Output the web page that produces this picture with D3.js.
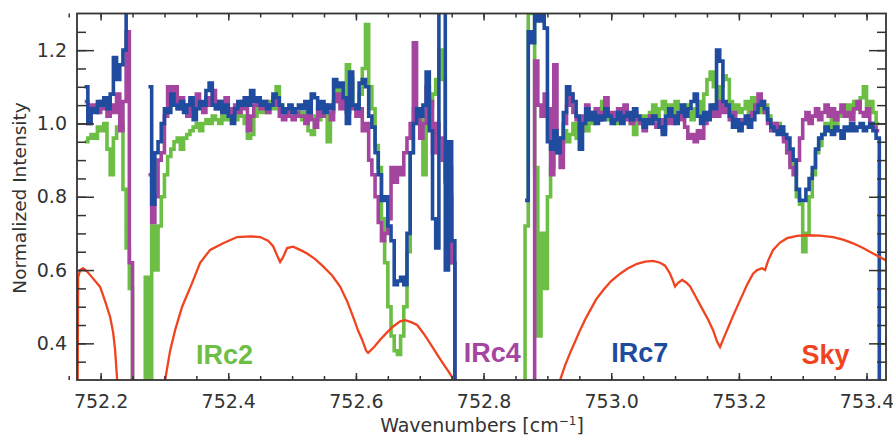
<!DOCTYPE html>
<html><head><meta charset="utf-8">
<script src="https://cdn.jsdelivr.net/npm/d3@7"></script>
<style>
html,body{margin:0;padding:0;background:#fff;}
svg text{font-family:"DejaVu Sans",sans-serif;}
</style></head>
<body><svg id="c" width="893" height="437"></svg>
<script>
// ---- data ----
const gridStart = 752.175, gridStep = 0.005, gridCount = 250;
const wavenumbers = d3.range(gridCount).map(i => +(gridStart + i * gridStep).toFixed(4));

const irc2 = [
0.95,0.96,0.97,0.96,0.99,0.98,1.00,0.93,0.86,0.96,
0.99,1.00,0.82,0.66,0.55,0.25,0.25,0.25,0.25,0.58,
0.25,0.72,0.60,0.72,0.80,0.86,0.91,0.93,0.95,0.96,
0.93,0.96,0.97,0.98,0.99,1.00,0.98,1.00,1.01,1.00,
1.02,1.01,1.00,1.02,1.01,1.03,1.02,1.01,1.03,1.02,
1.00,0.96,0.97,1.02,1.04,1.03,1.05,1.03,1.06,1.04,
1.10,1.05,1.03,1.02,1.04,1.03,1.02,1.03,1.01,1.03,
0.98,0.97,1.02,1.01,1.04,1.02,0.95,1.03,1.06,1.10,
1.08,1.05,1.16,1.12,1.05,1.04,1.08,1.15,1.27,1.10,
1.04,0.94,0.88,0.74,0.62,0.50,0.42,0.38,0.37,0.42,
0.50,0.65,0.92,1.04,1.00,1.03,0.86,1.00,1.05,1.08,
1.12,1.20,1.12,0.85,0.88,0.62,0.20,null,null,null,
null,null,null,null,null,null,null,null,null,null,
null,null,null,null,null,null,null,0.25,0.72,1.32,
1.30,0.88,0.42,0.70,0.55,0.80,0.88,0.92,0.96,0.93,
0.98,0.95,0.97,1.00,0.96,0.99,1.01,0.98,1.02,1.00,
1.03,1.01,1.06,1.03,1.01,1.02,1.00,1.03,1.01,1.04,
1.02,1.00,0.97,1.01,1.00,1.02,1.01,1.03,1.05,1.02,
1.04,1.06,1.03,1.05,1.02,1.06,1.04,1.02,1.05,1.03,
1.01,1.04,1.06,1.03,1.08,1.12,1.14,1.10,1.06,1.10,
1.13,1.12,1.06,1.03,1.05,1.03,1.04,1.06,1.02,1.07,
1.04,1.05,1.03,1.05,1.02,1.00,0.99,1.00,0.98,0.96,
0.92,0.89,0.88,0.80,0.78,0.65,0.70,0.80,0.86,0.92,
0.94,0.97,1.00,0.98,1.01,0.99,1.02,1.04,1.03,1.05,
1.03,1.06,1.04,1.07,1.10,1.05,1.06,1.03,1.00,1.00];

const irc4 = [
1.06,1.00,1.05,1.04,1.03,1.06,1.04,1.02,1.05,1.03,
1.08,0.98,1.06,1.25,0.62,0.25,0.25,null,null,null,
0.86,0.73,0.80,0.90,0.92,1.02,1.10,1.06,1.10,1.04,
1.07,1.05,1.02,1.06,1.04,1.08,1.05,1.03,1.07,1.05,
1.09,1.04,1.06,1.03,1.07,1.04,1.02,1.05,1.03,1.06,
1.04,0.98,1.02,1.05,1.07,1.04,1.06,1.03,1.05,1.07,
1.05,1.02,1.01,1.04,1.02,1.01,1.03,1.02,1.02,1.00,
1.03,1.01,0.99,1.04,1.02,1.05,1.03,1.01,1.06,1.08,
1.04,1.07,1.03,1.05,1.04,1.02,1.04,0.98,1.00,0.90,
0.86,0.80,0.73,0.68,0.70,0.74,0.88,0.84,0.88,0.86,
0.92,0.96,1.00,1.22,1.02,0.96,1.00,1.10,1.06,0.92,
1.00,0.96,0.90,0.84,0.80,0.62,0.20,null,null,null,
null,null,null,null,null,null,null,null,null,null,
null,null,null,null,null,null,null,null,null,null,
0.25,1.17,1.05,1.02,1.08,1.04,0.86,1.16,0.95,0.88,
1.00,1.05,1.08,1.03,1.01,0.98,1.02,1.05,1.03,1.02,
1.04,1.01,1.03,1.07,1.02,1.03,1.01,1.04,1.02,1.05,
1.01,1.00,1.03,1.01,1.00,0.98,1.00,1.02,1.00,0.99,
1.01,0.98,1.00,1.02,1.00,1.01,1.03,1.01,0.99,0.96,
0.97,0.95,0.98,0.96,1.00,1.03,1.02,1.05,1.02,1.06,
1.03,1.05,1.01,1.03,1.00,0.99,1.01,1.00,1.02,1.03,
1.05,1.08,1.06,1.03,1.00,0.98,1.00,0.98,0.99,0.95,
0.92,0.88,0.86,0.90,0.96,1.01,1.03,1.00,1.02,1.04,
1.01,1.03,1.05,1.02,1.04,1.01,1.03,1.05,1.02,1.03,
1.01,1.04,1.06,1.03,1.02,1.04,1.00,0.99,0.98,0.98];

const irc7 = [
1.10,1.00,1.04,1.03,1.06,1.05,1.07,1.04,1.08,1.18,
1.12,1.16,1.20,1.35,null,null,null,null,null,null,
1.10,0.78,0.92,0.95,1.00,1.04,1.03,1.08,1.05,1.04,
1.06,1.03,1.05,1.07,1.01,1.04,1.06,1.05,1.09,1.11,
1.05,1.04,1.06,1.03,1.05,1.02,1.00,1.04,1.06,1.05,
1.07,1.05,1.09,1.06,1.07,1.05,1.06,1.04,1.05,1.08,
1.07,1.05,1.03,1.04,1.05,1.03,1.04,1.05,1.04,1.06,
1.03,1.08,1.07,1.04,1.06,1.03,1.05,1.04,1.12,1.10,
1.11,1.07,1.00,1.14,1.05,1.04,1.11,1.12,1.10,1.02,
0.99,0.92,0.86,0.79,0.80,0.72,0.68,0.56,0.57,0.58,
0.56,0.70,0.92,1.00,1.04,1.02,1.05,1.14,0.98,0.74,
0.66,1.35,1.35,0.60,0.95,0.68,0.20,null,null,null,
null,null,null,null,null,null,null,null,null,null,
null,null,null,null,null,null,null,null,0.79,1.25,
1.22,1.32,1.28,1.32,1.26,0.95,0.93,0.98,0.92,0.96,
1.03,1.10,1.08,1.06,1.02,0.93,1.00,1.04,1.01,1.03,
1.00,1.02,1.01,1.04,1.02,1.00,1.01,1.03,1.00,1.02,
1.03,1.01,1.04,1.02,1.01,0.99,1.01,1.00,1.02,1.01,
0.99,0.97,1.02,1.04,1.02,1.00,1.03,1.05,1.02,1.04,
1.06,1.08,1.02,1.00,1.03,1.01,1.05,1.04,1.20,1.17,
1.06,1.05,1.02,0.99,1.01,0.98,1.00,1.02,0.99,1.01,
1.03,1.05,1.06,1.04,1.01,0.99,0.98,0.97,0.99,0.97,
0.96,0.93,0.90,0.82,0.79,0.79,0.82,0.85,0.88,0.93,
0.96,0.97,0.99,0.98,0.97,0.99,0.98,0.96,0.99,0.98,
1.00,0.98,0.99,1.00,0.98,0.99,1.00,0.98,0.96,0.20];

const skyWn = [
752.1640,752.1648,752.1679,752.1726,752.1789,752.1867,752.1992,752.2070,752.2149,752.2196,752.2227,752.2259,752.2274,
null,
752.2995,752.3011,752.3089,752.3167,752.3277,752.3434,752.3559,752.3716,752.3919,752.4139,752.4342,752.4499,752.4624,
752.4703,752.4765,752.4812,752.4859,752.4922,752.5016,752.5125,752.5235,752.5361,752.5486,752.5627,752.5752,752.5862,
752.5956,752.6034,752.6097,752.6160,752.6191,752.6285,752.6379,752.6489,752.6583,752.6692,752.6771,752.6865,752.6959,
752.7068,752.7162,752.7272,752.7366,752.7444,752.7507,752.7554,
null,
752.9168,752.9199,752.9277,752.9356,752.9434,752.9512,752.9591,752.9669,752.9763,752.9873,752.9998,753.0139,753.0264,
753.0405,753.0531,753.0656,753.0766,753.0844,753.0922,753.0969,753.1000,753.1048,753.1110,753.1173,753.1236,753.1330,
753.1439,753.1517,753.1596,753.1658,753.1705,753.1752,753.1815,753.1909,753.2019,753.2128,753.2222,753.2285,753.2363,
753.2410,753.2457,753.2536,753.2645,753.2755,753.2912,753.3068,753.3272,753.3476,753.3632,753.3789,753.3946,753.4102,
753.4212,753.4319];
const skyVal = [
0.28,0.58,0.600,0.605,0.596,0.58,0.554,0.515,0.472,0.43,0.382,0.30,0.25,
null,
0.25,0.30,0.38,0.436,0.50,0.565,0.62,0.655,0.673,0.69,0.692,0.69,0.68,
0.665,0.64,0.622,0.635,0.66,0.664,0.655,0.645,0.63,0.61,0.585,0.555,0.515,
0.472,0.435,0.41,0.38,0.374,0.39,0.41,0.43,0.446,0.46,0.463,0.458,0.45,
0.425,0.40,0.37,0.345,0.325,0.308,0.28,
null,
0.25,0.30,0.34,0.374,0.405,0.436,0.465,0.49,0.52,0.545,0.57,0.59,0.605,
0.617,0.623,0.625,0.62,0.612,0.59,0.57,0.555,0.565,0.573,0.566,0.555,0.525,
0.49,0.465,0.436,0.405,0.39,0.41,0.436,0.475,0.518,0.56,0.59,0.60,0.605,
0.60,0.625,0.655,0.675,0.687,0.693,0.695,0.694,0.69,0.683,0.673,0.66,0.645,
0.635,0.625];

const xTicks = [752.2,752.4,752.6,752.8,753.0,753.2,753.4];
const xTickLabels = ["752.2","752.4","752.6","752.8","753.0","753.2","753.4"];
const yTicks = [0.4,0.6,0.8,1.0,1.2];
const yTickLabels = ["0.4","0.6","0.8","1.0","1.2"];
const xMinor = d3.range(752.15, 753.45, 0.05).map(v => +v.toFixed(2));
const yMinor = d3.range(0.35, 1.3, 0.05).map(v => +v.toFixed(2));

const seriesNames = ["IRc2","IRc4","IRc7","Sky"];
const seriesColors = ["#6dbe45","#a4469f","#1f4c9e","#f0431f"];
const labelWn = [752.3495, 752.7688, 753.0002, 753.2981];
const labelVal = [0.345, 0.35, 0.35, 0.345];

// ---- chart ----
const svg = d3.select("#c");
const L = 77, R = 886, T = 13.5, B = 380;
const x = d3.scaleLinear().domain([752.163, 753.4305]).range([L, R]);
const y = d3.scaleLinear().domain([0.3, 1.3]).range([B, T]);

svg.append("defs").append("clipPath").attr("id","clip")
  .append("rect").attr("x",L).attr("y",T).attr("width",R-L).attr("height",B-T);

const gData = svg.append("g").attr("clip-path","url(#clip)");
const stepLine = d3.line()
  .defined(d => d.v != null)
  .x(d => x(d.w)).y(d => y(d.v))
  .curve(d3.curveStepAfter);

[irc2, irc4, irc7].forEach((arr, k) => {
  const pts = wavenumbers.map((w, i) => ({w, v: arr[i]}));
  gData.append("path").datum(pts)
    .attr("d", stepLine)
    .attr("fill","none")
    .attr("stroke", seriesColors[k])
    .attr("stroke-width", 3.6)
    .attr("stroke-linejoin","miter");
});

const skyLine = d3.line()
  .defined(d => d.v != null && d.w != null)
  .x(d => x(d.w)).y(d => y(d.v));
gData.append("path")
  .datum(skyWn.map((w, i) => ({w, v: skyVal[i]})))
  .attr("d", skyLine)
  .attr("fill","none").attr("stroke", seriesColors[3]).attr("stroke-width", 2.3);

// axes
const axisColor = "#333";
function styleAxis(g){
  g.select(".domain").remove();
  g.selectAll(".tick line").attr("stroke", axisColor).attr("stroke-width", 1.5);
  g.selectAll(".tick text").attr("fill", axisColor).style("font-size","19px")
   .style("font-family","'DejaVu Sans',sans-serif");
}
// bottom
svg.append("g").attr("transform",`translate(0,${B})`)
  .call(d3.axisBottom(x).tickValues(xMinor).tickSizeInner(-4).tickSizeOuter(0).tickFormat(""))
  .call(styleAxis);
svg.append("g").attr("transform",`translate(0,${B})`)
  .call(d3.axisBottom(x).tickValues(xTicks).tickSizeInner(-7).tickSizeOuter(0).tickPadding(15)
    .tickFormat((d,i) => xTickLabels[i]))
  .call(styleAxis);
// top
svg.append("g").attr("transform",`translate(0,${T})`)
  .call(d3.axisTop(x).tickValues(xMinor).tickSizeInner(-4).tickSizeOuter(0).tickFormat(""))
  .call(styleAxis);
svg.append("g").attr("transform",`translate(0,${T})`)
  .call(d3.axisTop(x).tickValues(xTicks).tickSizeInner(-7).tickSizeOuter(0).tickFormat(""))
  .call(styleAxis);
// left
svg.append("g").attr("transform",`translate(${L},0)`)
  .call(d3.axisLeft(y).tickValues(yMinor).tickSizeInner(-9).tickSizeOuter(0).tickFormat(""))
  .call(styleAxis);
svg.append("g").attr("transform",`translate(${L},0)`)
  .call(d3.axisLeft(y).tickValues(yTicks).tickSizeInner(-17).tickSizeOuter(0).tickPadding(10)
    .tickFormat((d,i) => yTickLabels[i]))
  .call(styleAxis);
// right
svg.append("g").attr("transform",`translate(${R},0)`)
  .call(d3.axisRight(y).tickValues(yMinor).tickSizeInner(-9).tickSizeOuter(0).tickFormat(""))
  .call(styleAxis);
svg.append("g").attr("transform",`translate(${R},0)`)
  .call(d3.axisRight(y).tickValues(yTicks).tickSizeInner(-17).tickSizeOuter(0).tickFormat(""))
  .call(styleAxis);

// frame
svg.append("rect").attr("x",L).attr("y",T).attr("width",R-L).attr("height",B-T)
  .attr("fill","none").attr("stroke",axisColor).attr("stroke-width",1.8);

// titles
svg.append("text").attr("x", 482).attr("y", 432).attr("text-anchor","middle")
  .attr("fill", axisColor).style("font-size","19px")
  .html('Wavenumbers [cm<tspan dy="-7" style="font-size:12px">−1</tspan><tspan dy="7">]</tspan>');
svg.append("text").attr("transform","translate(26,198) rotate(-90)").attr("text-anchor","middle")
  .attr("fill", axisColor).style("font-size","18.5px").text("Normalized Intensity");

// series labels
seriesNames.forEach((n, k) => {
  svg.append("text").attr("x", x(labelWn[k])).attr("y", y(labelVal[k]))
    .attr("fill", seriesColors[k])
    .style("font-family","'Liberation Sans',Arial,sans-serif")
    .style("font-weight","bold").style("font-size","27px").text(n);
});
</script></body></html>
